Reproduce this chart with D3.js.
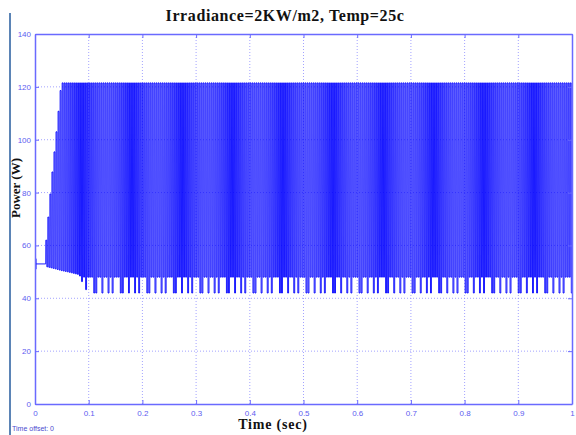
<!DOCTYPE html>
<html>
<head>
<meta charset="UTF-8">
<title>Power</title>
<script src="https://cdn.jsdelivr.net/npm/d3@7"></script>
<style>
  body { margin: 0; background: #fff; }
  .tick text { font: 8px "Liberation Sans", Arial, sans-serif; fill: #5c5cf0; }
  .grid line { stroke: #8c8cff; stroke-dasharray: 1,2; stroke-width: 0.8; }
  .lbl { font-family: "Liberation Serif", "Times New Roman", serif; font-weight: bold; fill: #111; }
</style>
</head>
<body>
<svg id="chart" width="576" height="435"></svg>
<script>
// axis ticks
var xTicks = [0, 0.1, 0.2, 0.3, 0.4, 0.5, 0.6, 0.7, 0.8, 0.9, 1];
var yTicks = [0, 20, 40, 60, 80, 100, 120, 140];

// initial flat level before the converter starts switching
var startLevel = 53;
var startEnd = 0.02;

// envelope of the oscillation
var envTime  = [0.02, 0.03, 0.04, 0.048, 0.06, 0.08, 0.085, 0.09, 0.095, 0.1, 1.0];
var envUpper = [62, 85, 105, 121.5, 121.5, 121.5, 121.5, 121.5, 121.5, 121.5, 121.5];
var envLower = [52, 51.5, 51, 50.5, 50, 49, 48, 48, 48, 48, 48];
var envMin   = [52, 51.5, 51, 50.5, 50, 49, 47, 45, 43, 42, 42];

// switching period and the order in which troughs reach the lower levels
var period = 0.0038;
var troughPattern = ["lower", "min", "lower", "lower", "min", "lower", "min", "lower", "lower", "lower", "min", "min", "lower"];

var svg = d3.select("#chart"),
    margin = {left: 35, right: 4, top: 34, bottom: 31},
    W = +svg.attr("width"), H = +svg.attr("height");

var x = d3.scaleLinear().domain([0, 1]).range([margin.left, W - margin.right]);
var y = d3.scaleLinear().domain([0, 140]).range([H - margin.bottom, margin.top]);

function interp(ts, vs, t) {
    if (t <= ts[0]) return vs[0];
    for (var i = 1; i < ts.length; i++) {
        if (t <= ts[i]) {
            var f = (t - ts[i - 1]) / (ts[i] - ts[i - 1]);
            return vs[i - 1] + f * (vs[i] - vs[i - 1]);
        }
    }
    return vs[vs.length - 1];
}

// build the polyline: flat start, then near-vertical steps up and down
var pts = [[0, startLevel], [startEnd, startLevel]];
var k = 0, eps = period * 0.05;
for (var t = startEnd; t <= 1; t += period) {
    var up = interp(envTime, envUpper, t);
    pts.push([t + eps, up], [t + period / 2, up]);
    var t2 = t + period / 2 + eps;
    var low = troughPattern[k % troughPattern.length] === "min" ? interp(envTime, envMin, t2) : interp(envTime, envLower, t2);
    pts.push([t2, low], [t + period, low]);
    k++;
}

// left window frame line
svg.append("line").attr("x1", 10).attr("x2", 10).attr("y1", 13).attr("y2", H)
    .attr("stroke", "#5b84b6").attr("stroke-width", 2);

// grid
svg.append("g").attr("class", "grid")
    .selectAll("line").data(xTicks.slice(1, -1)).join("line")
    .attr("x1", d => x(d)).attr("x2", d => x(d))
    .attr("y1", y(0)).attr("y2", y(140));
svg.append("g").attr("class", "grid")
    .selectAll("line").data(yTicks.slice(1, -1)).join("line")
    .attr("x1", x(0)).attr("x2", x(1))
    .attr("y1", d => y(d)).attr("y2", d => y(d));

// signal
svg.append("clipPath").attr("id", "clip").append("rect")
    .attr("x", x(0)).attr("y", y(140)).attr("width", x(1) - x(0)).attr("height", y(0) - y(140));
svg.append("path")
    .datum(pts)
    .attr("clip-path", "url(#clip)")
    .attr("fill", "none")
    .attr("stroke", "#0000ff")
    .attr("stroke-width", 0.9)
    .attr("d", d3.line().x(d => x(d[0])).y(d => y(d[1])));
// small marker at t=0
svg.append("line").attr("x1", x(0) + 1).attr("x2", x(0) + 1)
    .attr("y1", y(51)).attr("y2", y(55)).attr("stroke", "#0000ff");

// axes
var axColor = "#6a6aff";
var gx = svg.append("g").attr("transform", "translate(0," + y(0) + ")")
    .call(d3.axisBottom(x).tickValues(xTicks).tickFormat(d3.format("")).tickSizeInner(-4).tickSizeOuter(0).tickPadding(6));
var gxt = svg.append("g").attr("transform", "translate(0," + y(140) + ")")
    .call(d3.axisTop(x).tickValues(xTicks).tickFormat("").tickSizeInner(-4).tickSizeOuter(0));
var gy = svg.append("g").attr("transform", "translate(" + x(0) + ",0)")
    .call(d3.axisLeft(y).tickValues(yTicks).tickSizeInner(-4).tickSizeOuter(0).tickPadding(4));
var gyr = svg.append("g").attr("transform", "translate(" + x(1) + ",0)")
    .call(d3.axisRight(y).tickValues(yTicks).tickFormat("").tickSizeInner(-4).tickSizeOuter(0));
[gx, gxt, gy, gyr].forEach(function (g) {
    g.select(".domain").attr("stroke", axColor).attr("stroke-width", 1.5);
    g.selectAll(".tick line").attr("stroke", axColor);
});

// labels
svg.append("text").attr("class", "lbl").attr("x", 285).attr("y", 21)
    .attr("text-anchor", "middle").style("font-size", "16px").style("letter-spacing", "0.6px")
    .text("Irradiance=2KW/m2, Temp=25c");
svg.append("text").attr("class", "lbl").attr("x", 273).attr("y", 429)
    .attr("text-anchor", "middle").style("font-size", "14px").style("letter-spacing", "0.8px").text("Time (sec)");
svg.append("text").attr("class", "lbl")
    .attr("transform", "translate(20," + 188 + ") rotate(-90)")
    .attr("text-anchor", "middle").style("font-size", "13px").text("Power (W)");
svg.append("text").attr("x", 12).attr("y", 431)
    .style("font", "7px 'Liberation Sans', Arial, sans-serif").attr("fill", "#4b4bd0")
    .text("Time offset:  0");
</script>
</body>
</html>
